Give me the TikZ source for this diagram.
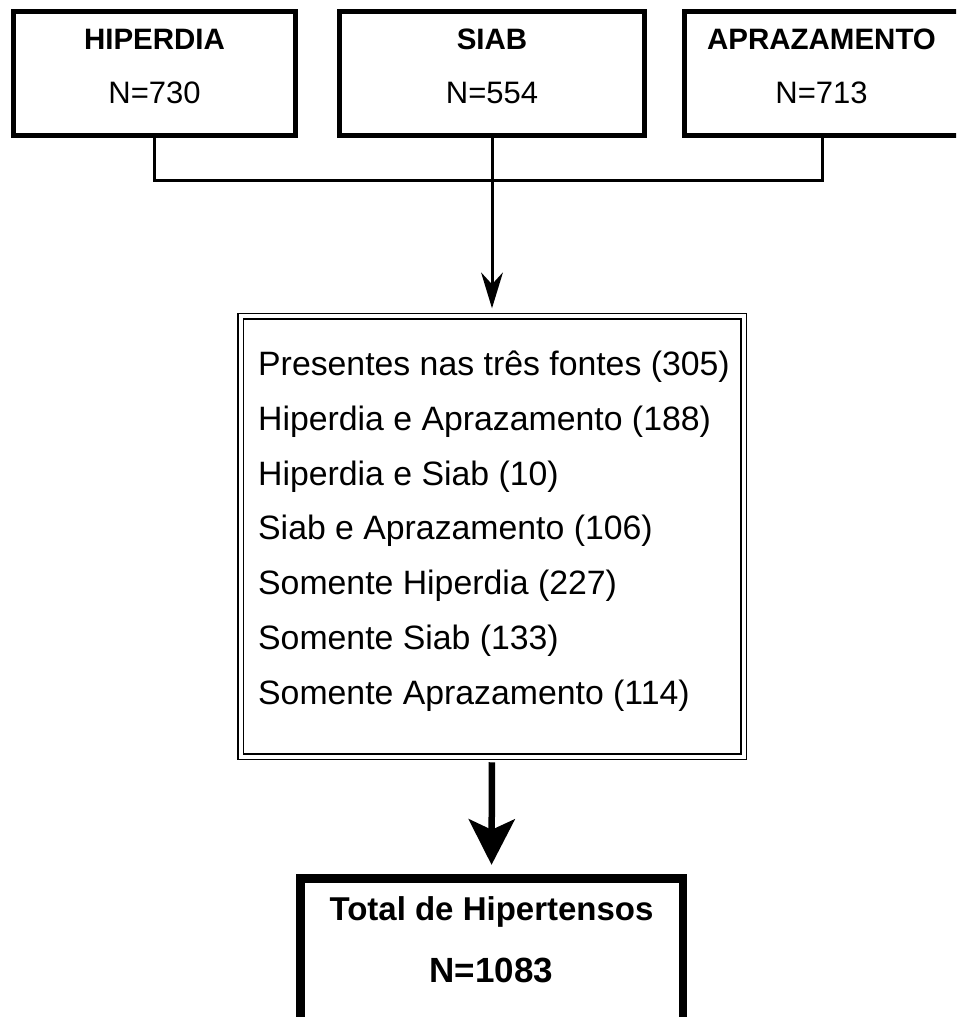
\documentclass[tikz,border=0pt]{standalone}
\usepackage{fontspec}
\setmainfont{Liberation Sans}
\usetikzlibrary{arrows.meta, positioning}
\tikzset{
  fonte/.style={draw=black, line width=5pt, minimum height=124pt, inner sep=0pt},
  titulo/.style={font=\fontsize{29.5}{36}\selectfont\bfseries, inner sep=0pt, anchor=base},
  valor/.style={font=\fontsize{31}{36}\selectfont, inner sep=0pt, anchor=base},
  conector/.style={line width=3pt},
  cruzamento/.style={draw=black, double=white, line width=1.5pt, double distance=4pt,
    minimum width=503pt, minimum height=440.5pt, inner sep=0pt},
  lista/.style={font=\fontsize{33.8}{54.7}\selectfont, align=left, inner sep=0pt, anchor=north west},
  total/.style={draw=black, line width=6.5pt, minimum width=384.5pt, minimum height=145pt, inner sep=0pt},
}

\begin{document}
\begin{tikzpicture}[x=1pt, y=-1pt, >=Stealth]
    \useasboundingbox (0,0) rectangle (956,1017);
    \clip (0,0) rectangle (956,1017);

    % tres fontes
    \node[fonte, minimum width=282pt] (hiperdia) at (154.5,73.5) {};
    \node[titulo] (hiperdiaNome) at (154.5,49) {HIPERDIA};
    \node[valor] (hiperdiaN) at (154.5,103) {N=730};

    \node[fonte, minimum width=305pt] (siab) at (492,73.5) {};
    \node[titulo] (siabNome) at (492,49) {SIAB};
    \node[valor] (siabN) at (492,103) {N=554};

    \node[fonte, minimum width=275.5pt] (aprazamento) at (822.25,73.5) {};
    \node[titulo] (aprazamentoNome) at (821.5,49) {APRAZAMENTO};
    \node[valor] (aprazamentoN) at (821.5,103) {N=713};

    \coordinate (juncao) at (492,180);
    \draw[conector] (hiperdia.south) |- (juncao) -| (aprazamento.south);

    % cruzamento das fontes
    \node[cruzamento] (fontes) at (492,536.25) {};
    \node[lista] (fontesLista) at (258,351) {Presentes nas três fontes (305)\\
      Hiperdia e Aprazamento (188)\\
      Hiperdia e Siab (10)\\
      Siab e Aprazamento (106)\\
      Somente Hiperdia (227)\\
      Somente Siab (133)\\
      Somente Aprazamento (114)};

    \draw[conector, -{Stealth[length=36pt, width=22pt, inset=12pt, line width=0pt]}, shorten >=7pt]
      (siab.south) -- (fontes.north);

    % total
    \node[total] (total) at (491.5,950) {};
    \draw[line width=2pt] ([shift={(7.5,7.5)}]total.north west) rectangle ([shift={(-7.5,-7.5)}]total.south east);
    \node[titulo, font=\fontsize{33}{36}\selectfont\bfseries] (totalNome) at (491.5,920) {Total de Hipertensos};
    \node[titulo, font=\fontsize{35}{36}\selectfont\bfseries] (totalN) at (491.5,982) {N=1083};

    \draw[line width=6.5pt, -{Stealth[length=46pt, width=47pt, inset=11pt, line width=0pt]},
      shorten <=5pt, shorten >=9.5pt] (fontes.south) -- (total.north);
\end{tikzpicture}
\end{document}
